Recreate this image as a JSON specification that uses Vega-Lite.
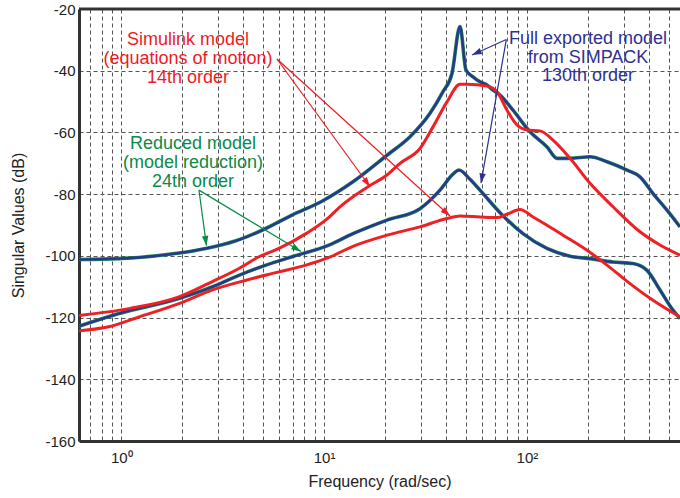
{
  "$schema": "https://vega.github.io/schema/vega-lite/v6.json",
  "width": 601,
  "height": 432,
  "autosize": {"type": "none"},
  "padding": {"left": 79, "top": 9, "right": 0, "bottom": 57},
  "background": "white",
  "config": {
    "view": {"stroke": null},
    "font": "Liberation Sans",
    "axis": {
      "labelFont": "Liberation Sans",
      "titleFont": "Liberation Sans",
      "labelFontSize": 15,
      "titleFontSize": 16,
      "titleFontWeight": "normal",
      "labelColor": "#222",
      "titleColor": "#222",
      "domainColor": "#333",
      "domainWidth": 3,
      "grid": true,
      "gridColor": "#555",
      "gridDash": [4, 3],
      "gridWidth": 1,
      "gridOpacity": 1,
      "ticks": false,
      "labelFlush": false,
      "labelOverlap": false,
      "labelBound": false
    }
  },
  "datasets": {
    "curves": [
      {"curve": "U", "group": "full", "f": 0.619, "db": -101.2},
      {"curve": "U", "group": "full", "f": 0.974, "db": -100.9},
      {"curve": "U", "group": "full", "f": 1.925, "db": -99.1},
      {"curve": "U", "group": "full", "f": 2.616, "db": -97.6},
      {"curve": "U", "group": "full", "f": 3.678, "db": -95.1},
      {"curve": "U", "group": "full", "f": 4.941, "db": -91.7},
      {"curve": "U", "group": "full", "f": 6.945, "db": -86.8},
      {"curve": "U", "group": "full", "f": 9.763, "db": -82.3},
      {"curve": "U", "group": "full", "f": 13.88, "db": -76.0},
      {"curve": "U", "group": "full", "f": 20.43, "db": -67.4},
      {"curve": "U", "group": "full", "f": 26.52, "db": -61.4},
      {"curve": "U", "group": "full", "f": 33.29, "db": -53.8},
      {"curve": "U", "group": "full", "f": 38.58, "db": -46.8},
      {"curve": "U", "group": "full", "f": 42.72, "db": -40.9},
      {"curve": "U", "group": "full", "f": 46.8, "db": -25.7},
      {"curve": "U", "group": "full", "f": 50.08, "db": -39.8},
      {"curve": "U", "group": "full", "f": 54.23, "db": -42.0},
      {"curve": "U", "group": "full", "f": 58.71, "db": -43.6},
      {"curve": "U", "group": "full", "f": 63.58, "db": -44.6},
      {"curve": "U", "group": "full", "f": 68.07, "db": -46.3},
      {"curve": "U", "group": "full", "f": 73.7, "db": -47.9},
      {"curve": "U", "group": "full", "f": 85.43, "db": -52.8},
      {"curve": "U", "group": "full", "f": 103.6, "db": -59.8},
      {"curve": "U", "group": "full", "f": 125.7, "db": -64.7},
      {"curve": "U", "group": "full", "f": 140.7, "db": -68.4},
      {"curve": "U", "group": "full", "f": 163.2, "db": -68.4},
      {"curve": "U", "group": "full", "f": 204.7, "db": -67.9},
      {"curve": "U", "group": "full", "f": 248.3, "db": -69.5},
      {"curve": "U", "group": "full", "f": 311.6, "db": -72.2},
      {"curve": "U", "group": "full", "f": 361.2, "db": -74.4},
      {"curve": "U", "group": "full", "f": 418.6, "db": -79.8},
      {"curve": "U", "group": "full", "f": 490.9, "db": -85.2},
      {"curve": "U", "group": "full", "f": 568.7, "db": -90.6},
      {"curve": "L", "group": "full", "f": 0.619, "db": -122.8},
      {"curve": "L", "group": "full", "f": 0.974, "db": -118.7},
      {"curve": "L", "group": "full", "f": 1.925, "db": -113.8},
      {"curve": "L", "group": "full", "f": 2.801, "db": -110.1},
      {"curve": "L", "group": "full", "f": 3.805, "db": -106.3},
      {"curve": "L", "group": "full", "f": 5.17, "db": -103.0},
      {"curve": "L", "group": "full", "f": 6.945, "db": -100.3},
      {"curve": "L", "group": "full", "f": 10.57, "db": -96.5},
      {"curve": "L", "group": "full", "f": 13.88, "db": -92.8},
      {"curve": "L", "group": "full", "f": 20.43, "db": -88.4},
      {"curve": "L", "group": "full", "f": 29.71, "db": -84.7},
      {"curve": "L", "group": "full", "f": 37.29, "db": -78.7},
      {"curve": "L", "group": "full", "f": 43.21, "db": -73.5},
      {"curve": "L", "group": "full", "f": 46.27, "db": -72.2},
      {"curve": "L", "group": "full", "f": 52.41, "db": -75.2},
      {"curve": "L", "group": "full", "f": 58.71, "db": -78.7},
      {"curve": "L", "group": "full", "f": 73.7, "db": -86.0},
      {"curve": "L", "group": "full", "f": 95.68, "db": -92.8},
      {"curve": "L", "group": "full", "f": 125.7, "db": -97.6},
      {"curve": "L", "group": "full", "f": 163.2, "db": -100.1},
      {"curve": "L", "group": "full", "f": 204.7, "db": -100.9},
      {"curve": "L", "group": "full", "f": 265.9, "db": -102.0},
      {"curve": "L", "group": "full", "f": 333.6, "db": -102.5},
      {"curve": "L", "group": "full", "f": 391.1, "db": -104.7},
      {"curve": "L", "group": "full", "f": 453.3, "db": -111.1},
      {"curve": "L", "group": "full", "f": 525.4, "db": -117.6},
      {"curve": "L", "group": "full", "f": 568.7, "db": -120.3},
      {"curve": "R1", "group": "simulink", "f": 0.619, "db": -119.3},
      {"curve": "R1", "group": "simulink", "f": 1.091, "db": -117.1},
      {"curve": "R1", "group": "simulink", "f": 1.925, "db": -113.3},
      {"curve": "R1", "group": "simulink", "f": 2.801, "db": -108.4},
      {"curve": "R1", "group": "simulink", "f": 3.805, "db": -104.1},
      {"curve": "R1", "group": "simulink", "f": 4.775, "db": -100.3},
      {"curve": "R1", "group": "simulink", "f": 5.992, "db": -97.6},
      {"curve": "R1", "group": "simulink", "f": 8.141, "db": -92.8},
      {"curve": "R1", "group": "simulink", "f": 10.57, "db": -87.5},
      {"curve": "R1", "group": "simulink", "f": 11.98, "db": -84.1},
      {"curve": "R1", "group": "simulink", "f": 16.46, "db": -77.6},
      {"curve": "R1", "group": "simulink", "f": 20.43, "db": -73.8},
      {"curve": "R1", "group": "simulink", "f": 23.68, "db": -70.0},
      {"curve": "R1", "group": "simulink", "f": 29.71, "db": -65.2},
      {"curve": "R1", "group": "simulink", "f": 34.44, "db": -58.2},
      {"curve": "R1", "group": "simulink", "f": 40.37, "db": -50.1},
      {"curve": "R1", "group": "simulink", "f": 46.8, "db": -44.4},
      {"curve": "R1", "group": "simulink", "f": 50.65, "db": -44.4},
      {"curve": "R1", "group": "simulink", "f": 63.58, "db": -45.0},
      {"curve": "R1", "group": "simulink", "f": 71.23, "db": -46.8},
      {"curve": "R1", "group": "simulink", "f": 79.8, "db": -52.8},
      {"curve": "R1", "group": "simulink", "f": 89.4, "db": -57.6},
      {"curve": "R1", "group": "simulink", "f": 100.1, "db": -59.2},
      {"curve": "R1", "group": "simulink", "f": 116.0, "db": -59.5},
      {"curve": "R1", "group": "simulink", "f": 134.5, "db": -62.5},
      {"curve": "R1", "group": "simulink", "f": 163.2, "db": -68.4},
      {"curve": "R1", "group": "simulink", "f": 204.7, "db": -76.5},
      {"curve": "R1", "group": "simulink", "f": 265.9, "db": -84.1},
      {"curve": "R1", "group": "simulink", "f": 361.2, "db": -92.2},
      {"curve": "R1", "group": "simulink", "f": 453.3, "db": -96.5},
      {"curve": "R1", "group": "simulink", "f": 568.7, "db": -99.8},
      {"curve": "R2", "group": "simulink", "f": 0.619, "db": -124.3},
      {"curve": "R2", "group": "simulink", "f": 0.869, "db": -123.0},
      {"curve": "R2", "group": "simulink", "f": 1.223, "db": -119.8},
      {"curve": "R2", "group": "simulink", "f": 1.925, "db": -115.5},
      {"curve": "R2", "group": "simulink", "f": 2.801, "db": -111.1},
      {"curve": "R2", "group": "simulink", "f": 4.12, "db": -107.9},
      {"curve": "R2", "group": "simulink", "f": 5.992, "db": -105.2},
      {"curve": "R2", "group": "simulink", "f": 8.141, "db": -103.0},
      {"curve": "R2", "group": "simulink", "f": 10.57, "db": -100.5},
      {"curve": "R2", "group": "simulink", "f": 13.88, "db": -96.9},
      {"curve": "R2", "group": "simulink", "f": 20.43, "db": -93.3},
      {"curve": "R2", "group": "simulink", "f": 29.71, "db": -90.6},
      {"curve": "R2", "group": "simulink", "f": 40.37, "db": -87.9},
      {"curve": "R2", "group": "simulink", "f": 46.8, "db": -87.1},
      {"curve": "R2", "group": "simulink", "f": 58.71, "db": -87.4},
      {"curve": "R2", "group": "simulink", "f": 71.23, "db": -87.6},
      {"curve": "R2", "group": "simulink", "f": 79.8, "db": -86.5},
      {"curve": "R2", "group": "simulink", "f": 92.48, "db": -85.0},
      {"curve": "R2", "group": "simulink", "f": 107.2, "db": -87.4},
      {"curve": "R2", "group": "simulink", "f": 125.7, "db": -90.1},
      {"curve": "R2", "group": "simulink", "f": 150.7, "db": -93.3},
      {"curve": "R2", "group": "simulink", "f": 197.8, "db": -98.2},
      {"curve": "R2", "group": "simulink", "f": 248.3, "db": -103.0},
      {"curve": "R2", "group": "simulink", "f": 322.4, "db": -109.0},
      {"curve": "R2", "group": "simulink", "f": 418.6, "db": -114.4},
      {"curve": "R2", "group": "simulink", "f": 568.7, "db": -119.8}
    ],
    "arrows": [
      {"group": "simulink", "f": 16.84, "db": -77.6, "f2": 5.859, "db2": -36.2},
      {"group": "simulink", "f": 41.77, "db": -87.1, "f2": 5.859, "db2": -36.2},
      {"group": "reduced", "f": 2.631, "db": -96.7, "f2": 2.416, "db2": -78.7},
      {"group": "reduced", "f": 7.694, "db": -98.6, "f2": 2.416, "db2": -78.7},
      {"group": "full", "f": 53.62, "db": -34.9, "f2": 79.16, "db2": -29.9},
      {"group": "full", "f": 59.37, "db": -76.4, "f2": 79.16, "db2": -29.9}
    ],
    "labels": [
      {"group": "simulink", "label": "Simulink model", "f": 2.133, "db": -31.68},
      {"group": "simulink", "label": "(equations of motion)", "f": 2.133, "db": -37.9},
      {"group": "simulink", "label": "14th order", "f": 2.133, "db": -44.13},
      {"group": "reduced", "label": "Reduced model", "f": 2.258, "db": -65.5},
      {"group": "reduced", "label": "(model reduction)", "f": 2.258, "db": -71.57},
      {"group": "reduced", "label": "24th order", "f": 2.258, "db": -77.63},
      {"group": "full", "label": "Full exported model", "f": 200.1, "db": -31.19},
      {"group": "full", "label": "from SIMPACK", "f": 200.1, "db": -37.35},
      {"group": "full", "label": "130th order", "f": 200.1, "db": -43.35}
    ],
    "frame": [
      {"f": 0.619, "f2": 568.7, "db": -20, "db2": -20}
    ]
  },
  "encoding": {
    "x": {
      "field": "f", "type": "quantitative",
      "scale": {"type": "log", "domain": [0.619, 568.7], "nice": false},
      "axis": {
        "title": "Frequency (rad/sec)",
        "values": [0.7, 0.8, 0.9, 1, 2, 3, 4, 5, 6, 7, 8, 9, 10, 20, 30, 40, 50, 60, 70, 80, 90, 100, 200, 300, 400, 500],
        "labelExpr": "datum.value == 1 ? '10⁰' : datum.value == 10 ? '10¹' : datum.value == 100 ? '10²' : ''",
        "labelPadding": 9,
        "titlePadding": 8
      }
    },
    "y": {
      "field": "db", "type": "quantitative",
      "scale": {"domain": [-160, -20], "nice": false},
      "axis": {
        "title": "Singular Values (dB)",
        "values": [-160, -140, -120, -100, -80, -60, -40, -20],
        "labelExpr": "datum.value + ''",
        "labelPadding": 4,
        "titlePadding": 18
      }
    }
  },
  "layer": [
    {
      "data": {"name": "curves"},
      "transform": [{"filter": "datum.group == 'full'"}],
      "mark": {"type": "line", "color": "#178a4e", "strokeWidth": 3.6, "interpolate": "monotone", "clip": true},
      "encoding": {"detail": {"field": "curve"}}
    },
    {
      "data": {"name": "curves"},
      "transform": [{"filter": "datum.group == 'full'"}],
      "mark": {"type": "line", "color": "#2a3590", "strokeWidth": 2.3, "interpolate": "monotone", "clip": true},
      "encoding": {"detail": {"field": "curve"}}
    },
    {
      "data": {"name": "curves"},
      "transform": [{"filter": "datum.group == 'simulink'"}],
      "mark": {"type": "line", "color": "#ee2024", "strokeWidth": 3, "interpolate": "monotone", "clip": true},
      "encoding": {"detail": {"field": "curve"}}
    },
    {
      "data": {"name": "arrows"},
      "mark": {"type": "rule", "strokeWidth": 1.2},
      "encoding": {
        "x2": {"field": "f2"},
        "y2": {"field": "db2"},
        "color": {"field": "group", "type": "nominal", "scale": {"domain": ["simulink", "reduced", "full"], "range": ["#ee1c24", "#0b8a48", "#2e3192"]}, "legend": null}
      }
    },
    {
      "data": {"name": "arrows"},
      "transform": [
        {"calculate": "atan2((log(datum.f) - log(datum.f2)) / LN10 * 202.8, (datum.db - datum.db2) * 3.0833) * 180 / PI", "as": "angle"}
      ],
      "mark": {"type": "point", "filled": true, "opacity": 1, "shape": "M0,0L-0.33,1L0.33,1Z", "size": 380},
      "encoding": {
        "angle": {"field": "angle", "type": "quantitative", "scale": null},
        "color": {"field": "group", "type": "nominal", "scale": {"domain": ["simulink", "reduced", "full"], "range": ["#ee1c24", "#0b8a48", "#2e3192"]}, "legend": null}
      }
    },
    {
      "data": {"name": "labels"},
      "mark": {"type": "text", "align": "center", "baseline": "alphabetic", "fontSize": 18, "font": "Liberation Sans"},
      "encoding": {
        "text": {"field": "label"},
        "color": {"field": "group", "type": "nominal", "scale": {"domain": ["simulink", "reduced", "full"], "range": ["#ee1c24", "#0b8a48", "#2e3192"]}, "legend": null}
      }
    },
    {
      "data": {"name": "frame"},
      "mark": {"type": "rule", "color": "#333", "strokeWidth": 3},
      "encoding": {"x2": {"field": "f2"}, "y2": {"field": "db2"}}
    }
  ]
}
